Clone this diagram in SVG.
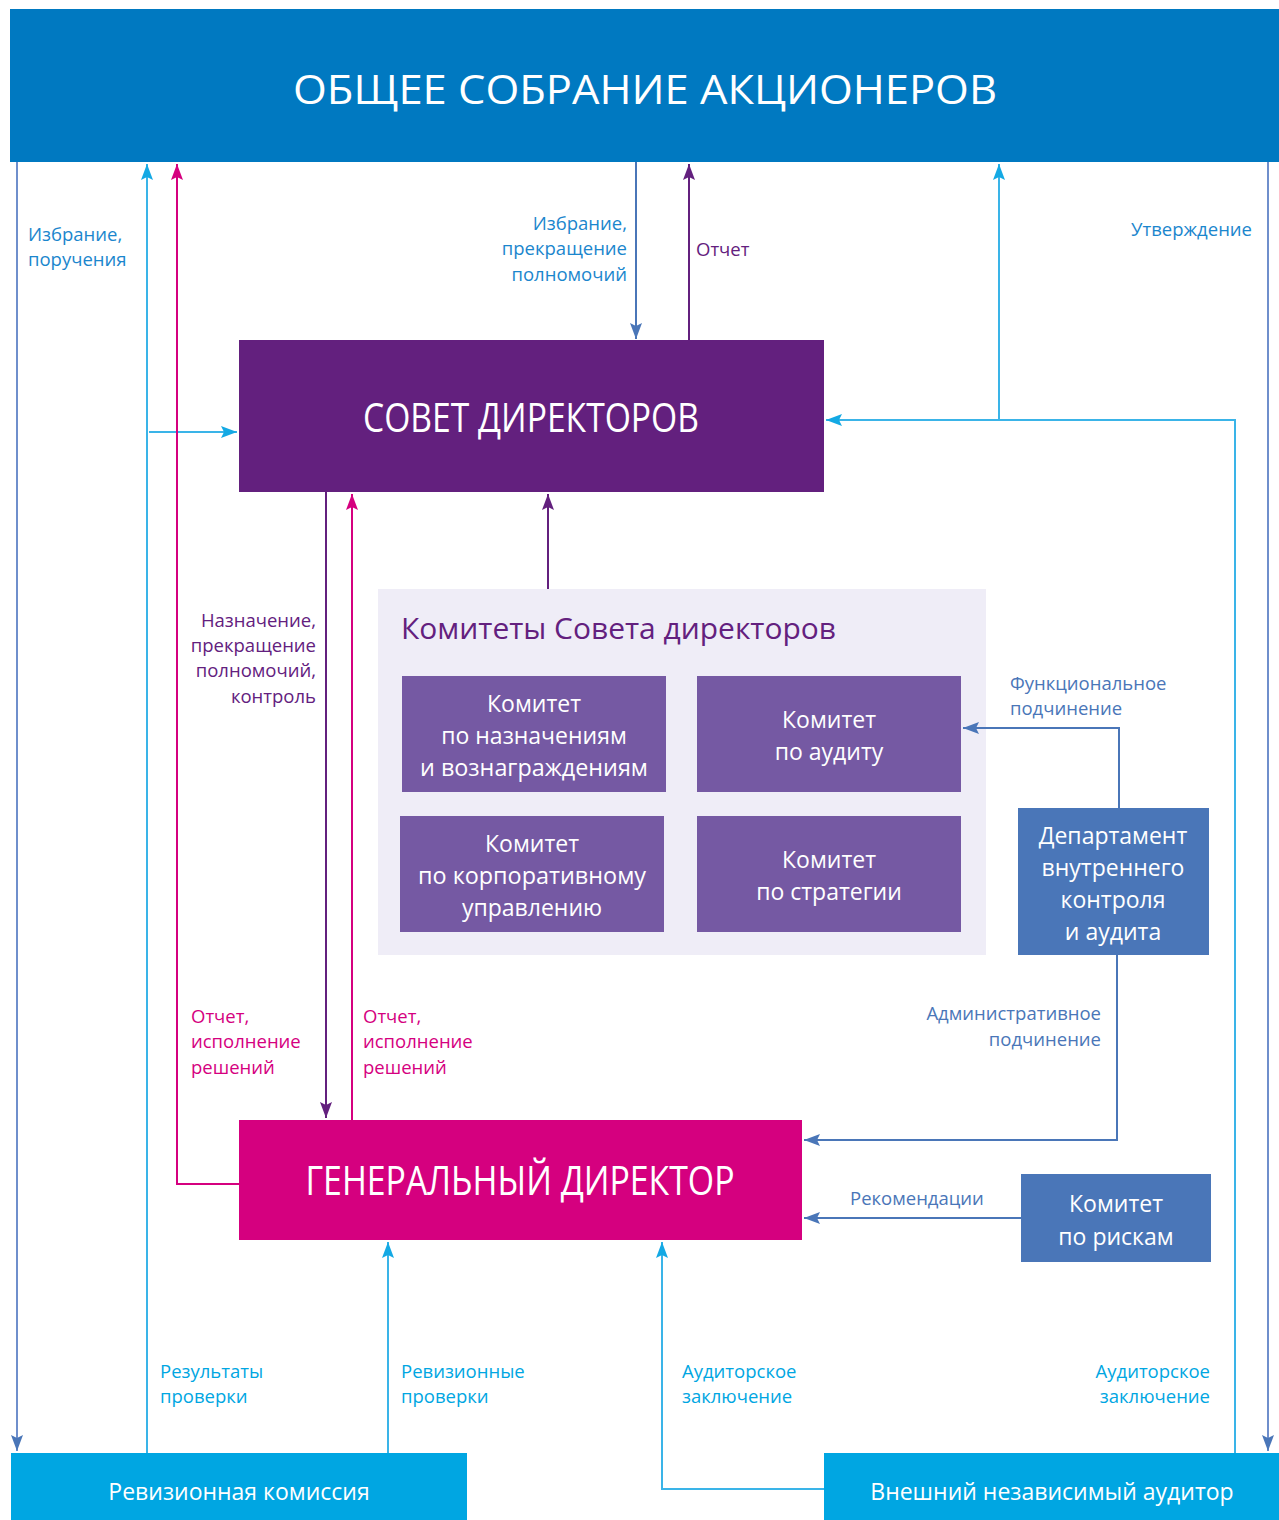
<svg xmlns="http://www.w3.org/2000/svg" width="1279" height="1520" viewBox="0 0 1279 1520">
<style>
  text { font-family: "Open Sans", "Noto Sans", "DejaVu Sans", sans-serif; }
  .big { fill: #ffffff; font-size: 40px; }
  .box { fill: #ffffff; font-size: 23px; }
  .lbl { font-size: 18.5px; }
  .c-blue { fill: #1b86cd; }
  .c-purple { fill: #63207e; }
  .c-mag { fill: #d5007f; }
  .c-steel { fill: #4a76b8; }
  .c-cyan { fill: #00a6e2; }
  .ln { fill: none; stroke-width: 2; }
  .s-steel { stroke: #6f8fcc; }
  .s-cyan { stroke: #3ab4e8; }
  .s-mag { stroke: #d5007f; }
  .s-purple { stroke: #63207e; }
  .s-dblue { stroke: #4a76b8; }
</style>
<defs>
  <marker id="aSteel" markerUnits="userSpaceOnUse" markerWidth="16" markerHeight="12" refX="16" refY="6" orient="auto"><path d="M0,0 L16,6 L0,12 L3,6 z" fill="#4a76b8"/></marker>
  <marker id="aCyan" markerUnits="userSpaceOnUse" markerWidth="16" markerHeight="12" refX="16" refY="6" orient="auto"><path d="M0,0 L16,6 L0,12 L3,6 z" fill="#14a9e4"/></marker>
  <marker id="aMag" markerUnits="userSpaceOnUse" markerWidth="16" markerHeight="12" refX="16" refY="6" orient="auto"><path d="M0,0 L16,6 L0,12 L3,6 z" fill="#d5007f"/></marker>
  <marker id="aPurple" markerUnits="userSpaceOnUse" markerWidth="16" markerHeight="12" refX="16" refY="6" orient="auto"><path d="M0,0 L16,6 L0,12 L3,6 z" fill="#63207e"/></marker>
</defs>

<g id="shareholders">
  <rect x="10" y="9" width="1269" height="153" fill="#0079c1"/>
  <text class="big" x="645" y="104" text-anchor="middle" font-size="42" textLength="704" lengthAdjust="spacingAndGlyphs">ОБЩЕЕ СОБРАНИЕ АКЦИОНЕРОВ</text>
</g>

<g id="board">
  <rect x="239" y="340" width="585" height="152" fill="#63207e"/>
  <text class="big" x="531" y="432" text-anchor="middle" font-size="35" textLength="336" lengthAdjust="spacingAndGlyphs">СОВЕТ ДИРЕКТОРОВ</text>
</g>

<g id="committees">
  <rect x="378" y="589" width="608" height="366" fill="#efedf7"/>
  <text x="401" y="639" font-size="30" fill="#63207e" textLength="435" lengthAdjust="spacingAndGlyphs">Комитеты Совета директоров</text>
</g>

<g id="committee-nominations">
  <rect x="402" y="676" width="264" height="116" fill="#7559a3"/>
  <text class="box" text-anchor="middle" x="534" y="712">Комитет</text>
  <text class="box" text-anchor="middle" x="534" y="744">по назначениям</text>
  <text class="box" text-anchor="middle" x="534" y="776" textLength="228" lengthAdjust="spacingAndGlyphs">и вознаграждениям</text>
</g>

<g id="committee-audit">
  <rect x="697" y="676" width="264" height="116" fill="#7559a3"/>
  <text class="box" text-anchor="middle" x="829" y="728">Комитет</text>
  <text class="box" text-anchor="middle" x="829" y="760">по аудиту</text>
</g>

<g id="committee-governance">
  <rect x="400" y="816" width="264" height="116" fill="#7559a3"/>
  <text class="box" text-anchor="middle" x="532" y="852">Комитет</text>
  <text class="box" text-anchor="middle" x="532" y="884" textLength="228" lengthAdjust="spacingAndGlyphs">по корпоративному</text>
  <text class="box" text-anchor="middle" x="532" y="916">управлению</text>
</g>

<g id="committee-strategy">
  <rect x="697" y="816" width="264" height="116" fill="#7559a3"/>
  <text class="box" text-anchor="middle" x="829" y="868">Комитет</text>
  <text class="box" text-anchor="middle" x="829" y="900">по стратегии</text>
</g>

<g id="internal-audit">
  <rect x="1018" y="808" width="191" height="147" fill="#4a76b8"/>
  <text class="box" text-anchor="middle" x="1113" y="844" font-size="24">Департамент</text>
  <text class="box" text-anchor="middle" x="1113" y="876" font-size="24">внутреннего</text>
  <text class="box" text-anchor="middle" x="1113" y="908" font-size="24">контроля</text>
  <text class="box" text-anchor="middle" x="1113" y="940" font-size="24">и аудита</text>
</g>

<g id="ceo">
  <rect x="239" y="1120" width="563" height="120" fill="#d5007f"/>
  <text class="big" x="520" y="1195" text-anchor="middle" font-size="35" textLength="429" lengthAdjust="spacingAndGlyphs">ГЕНЕРАЛЬНЫЙ ДИРЕКТОР</text>
</g>

<g id="risk-committee">
  <rect x="1021" y="1174" width="190" height="88" fill="#4a76b8"/>
  <text class="box" text-anchor="middle" x="1116" y="1212" font-size="24">Комитет</text>
  <text class="box" text-anchor="middle" x="1116" y="1245" font-size="24">по рискам</text>
</g>

<g id="revision-commission">
  <rect x="11" y="1453" width="456" height="67" fill="#00a6e2"/>
  <text class="box" text-anchor="middle" x="239" y="1500">Ревизионная комиссия</text>
</g>

<g id="external-auditor">
  <rect x="824" y="1453" width="455" height="67" fill="#00a6e2"/>
  <text class="box" text-anchor="middle" x="1052" y="1500">Внешний независимый аудитор</text>
</g>

<g id="connectors">
  <path class="ln s-steel" d="M17,162 V1451" marker-end="url(#aSteel)"/>
  <path class="ln s-steel" d="M1268,162 V1451" marker-end="url(#aSteel)"/>
  <path class="ln s-cyan" d="M147,1453 V164" marker-end="url(#aCyan)"/>
  <path class="ln s-cyan" d="M149,432 H237" marker-end="url(#aCyan)"/>
  <path class="ln s-mag" d="M239,1184 H177 V164" marker-end="url(#aMag)"/>
  <path class="ln s-dblue" d="M636,162 V339" marker-end="url(#aSteel)"/>
  <path class="ln s-purple" d="M689,340 V164" marker-end="url(#aPurple)"/>
  <path class="ln s-cyan" d="M1235,1453 V420 H826" marker-end="url(#aCyan)"/>
  <path class="ln s-cyan" d="M999,420 V164" marker-end="url(#aCyan)"/>
  <path class="ln s-purple" d="M326,492 V1118" marker-end="url(#aPurple)"/>
  <path class="ln s-mag" d="M352,1120 V494" marker-end="url(#aMag)"/>
  <path class="ln s-purple" d="M548,589 V494" marker-end="url(#aPurple)"/>
  <path class="ln s-dblue" d="M1119,808 V728 H963" marker-end="url(#aSteel)"/>
  <path class="ln s-dblue" d="M1117,955 V1140 H804" marker-end="url(#aSteel)"/>
  <path class="ln s-dblue" d="M1021,1218 H804" marker-end="url(#aSteel)"/>
  <path class="ln s-cyan" d="M388,1453 V1242" marker-end="url(#aCyan)"/>
  <path class="ln s-cyan" d="M824,1489 H662 V1242" marker-end="url(#aCyan)"/>
</g>

<g id="labels">
  <text class="lbl c-blue" x="28" y="241">Избрание,</text>
  <text class="lbl c-blue" x="28" y="266">поручения</text>
  <text class="lbl c-blue" text-anchor="end" x="627" y="230">Избрание,</text>
  <text class="lbl c-blue" text-anchor="end" x="627" y="255">прекращение</text>
  <text class="lbl c-blue" text-anchor="end" x="627" y="281">полномочий</text>
  <text class="lbl c-purple" x="696" y="256">Отчет</text>
  <text class="lbl c-blue" text-anchor="end" x="1252" y="236">Утверждение</text>
  <text class="lbl c-purple" text-anchor="end" x="316" y="627">Назначение,</text>
  <text class="lbl c-purple" text-anchor="end" x="316" y="652">прекращение</text>
  <text class="lbl c-purple" text-anchor="end" x="316" y="677">полномочий,</text>
  <text class="lbl c-purple" text-anchor="end" x="316" y="703">контроль</text>
  <text class="lbl c-steel" x="1010" y="690">Функциональное</text>
  <text class="lbl c-steel" x="1010" y="715">подчинение</text>
  <text class="lbl c-mag" x="191" y="1023">Отчет,</text>
  <text class="lbl c-mag" x="191" y="1048">исполнение</text>
  <text class="lbl c-mag" x="191" y="1074">решений</text>
  <text class="lbl c-mag" x="363" y="1023">Отчет,</text>
  <text class="lbl c-mag" x="363" y="1048">исполнение</text>
  <text class="lbl c-mag" x="363" y="1074">решений</text>
  <text class="lbl c-steel" text-anchor="end" x="1101" y="1020">Административное</text>
  <text class="lbl c-steel" text-anchor="end" x="1101" y="1046">подчинение</text>
  <text class="lbl c-steel" x="850" y="1205">Рекомендации</text>
  <text class="lbl c-cyan" x="160" y="1378">Результаты</text>
  <text class="lbl c-cyan" x="160" y="1403">проверки</text>
  <text class="lbl c-cyan" x="401" y="1378">Ревизионные</text>
  <text class="lbl c-cyan" x="401" y="1403">проверки</text>
  <text class="lbl c-cyan" x="682" y="1378">Аудиторское</text>
  <text class="lbl c-cyan" x="682" y="1403">заключение</text>
  <text class="lbl c-cyan" text-anchor="end" x="1210" y="1378">Аудиторское</text>
  <text class="lbl c-cyan" text-anchor="end" x="1210" y="1403">заключение</text>
</g>
</svg>
